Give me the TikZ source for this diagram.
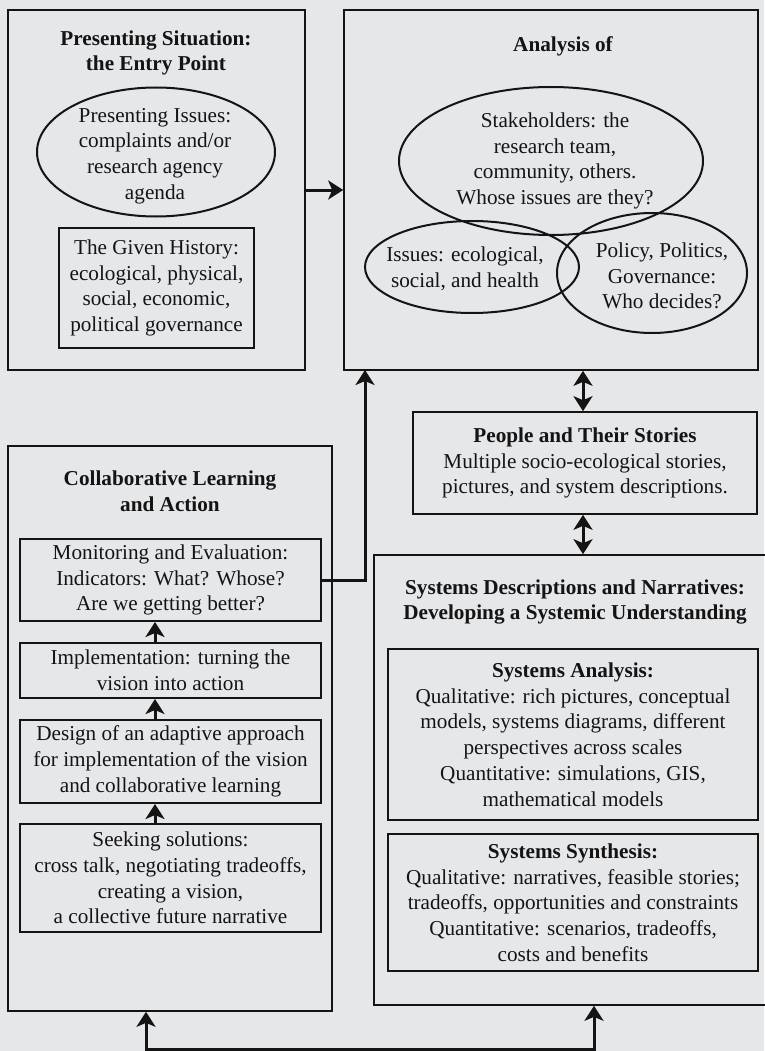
\documentclass[tikz,border=0pt]{standalone}
\usepackage{fontspec}
\setmainfont{Liberation Serif}
\usetikzlibrary{shapes.geometric,arrows.meta}
\definecolor{paper}{RGB}{230,231,233}
\definecolor{ink}{RGB}{20,20,20}
\tikzset{
  x=1pt, y=-1pt,
  every node/.style={text=ink, font=\fontsize{21.2}{25.7}\selectfont, inner sep=0pt, align=center},
  outer/.style={draw=ink, line width=1.6pt, rectangle},
  inner/.style={draw=ink, line width=2pt, rectangle},
  oval/.style={draw=ink, line width=2pt, ellipse},
  title/.style={font=\fontsize{21.2}{25.7}\selectfont\bfseries},
  arr/.style={draw=ink, line width=3pt, -{Stealth[length=15pt,width=19pt,inset=4pt]}},
  twoway/.style={draw=ink, line width=3pt, {Stealth[length=15pt,width=19pt,inset=4pt]}-{Stealth[length=15pt,width=19pt,inset=4pt]}},
}
\begin{document}
\begin{tikzpicture}
\fill[paper] (0,0) rectangle (764,1051);
\useasboundingbox (0,0) rectangle (764,1051);

% ---- entry point ----
\node[outer, minimum width=297, minimum height=360] (sit) at (156.5,190) {};
\node[title] (sitT) at (156,53) {Presenting Situation:\\the Entry Point};
\node[oval, minimum width=238, minimum height=129] (issE) at (156,152) {};
\node (issT) at (155,156) {Presenting Issues:\\complaints and/or\\research agency\\agenda};
\node[inner, minimum width=195, minimum height=120] (hist) at (156.5,288)
  {The Given History:\\ecological, physical,\\social, economic,\\political governance};

% ---- analysis ----
\node[outer, minimum width=414, minimum height=360] (ana) at (551,190) {};
\node[title] (anaT) at (563,46) {Analysis of};
\node[oval, minimum width=304, minimum height=148] (stkE) at (551,161) {};
\node[oval, minimum width=214, minimum height=92] (isoE) at (472,267) {};
\node[oval, minimum width=190, minimum height=120] (polE) at (652,273) {};
\node (stkT) at (555,161) {Stakeholders: the\\research team,\\community, others.\\Whose issues are they?};
\node (isoT) at (465,269) {Issues: ecological,\\social, and health};
\node (polT) at (662,276) {Policy, Politics,\\Governance:\\Who decides?};

% ---- people ----
\node[outer, minimum width=344, minimum height=102] (ppl) at (585,463)
  {\textbf{People and Their Stories}\\Multiple socio-ecological stories,\\pictures, and system descriptions.};

% ---- systems descriptions ----
\node[outer, minimum width=394, minimum height=450] (sysd) at (571,780) {};
\node[title] (sysT) at (575,602) {Systems Descriptions and Narratives:\\Developing a Systemic Understanding};
\node[inner, minimum width=370, minimum height=171] (syan) at (573,734.5)
  {\textbf{Systems Analysis:}\\Qualitative: rich pictures, conceptual\\models, systems diagrams, different\\perspectives across scales\\Quantitative: simulations, GIS,\\mathematical models};
\node[inner, minimum width=370, minimum height=137] (sysy) at (573,902.5)
  {\textbf{Systems Synthesis:}\\Qualitative: narratives, feasible stories;\\tradeoffs, opportunities and constraints\\Quantitative: scenarios, tradeoffs,\\costs and benefits};

% ---- collaborative learning ----
\node[outer, minimum width=324, minimum height=565] (col) at (170,728.5) {};
\node[title] (colT) at (170,491) {Collaborative Learning\\and Action};
\node[inner, minimum width=301, minimum height=82] (mon) at (170.5,580)
  {Monitoring and Evaluation:\\Indicators: What? Whose?\\Are we getting better?};
\node[inner, minimum width=301, minimum height=55] (imp) at (170.5,670.5)
  {Implementation: turning the\\vision into action};
\node[inner, minimum width=301, minimum height=83] (des) at (170.5,761.5)
  {Design of an adaptive approach\\for implementation of the vision\\and collaborative learning};
\node[inner, minimum width=301, minimum height=108] (seek) at (170.5,878)
  {Seeking solutions:\\cross talk, negotiating tradeoffs,\\creating a vision,\\a collective future narrative};

% ---- connectors ----
\coordinate (ay) at (0,190);
\coordinate (ax) at (155,0);
\coordinate (px) at (583,0);
\coordinate (hook) at (365,370);
\coordinate (bl) at (146,1049);
\coordinate (br) at (594,1049);

\draw[arr] (sit.east |- ay) -- (ana.west |- ay);
\draw[twoway] (ana.south -| px) -- (ppl.north -| px);
\draw[twoway] (ppl.south -| px) -- (sysd.north -| px);
\draw[arr] (seek.north -| ax) -- (des.south -| ax);
\draw[arr] (des.north -| ax) -- (imp.south -| ax);
\draw[arr] (imp.north -| ax) -- (mon.south -| ax);
\draw[arr] (mon.east) -| (hook);
\draw[twoway, line join=miter] (col.south -| bl) -- (bl) -- (br) -- (sysd.south -| br);
\end{tikzpicture}
\end{document}
